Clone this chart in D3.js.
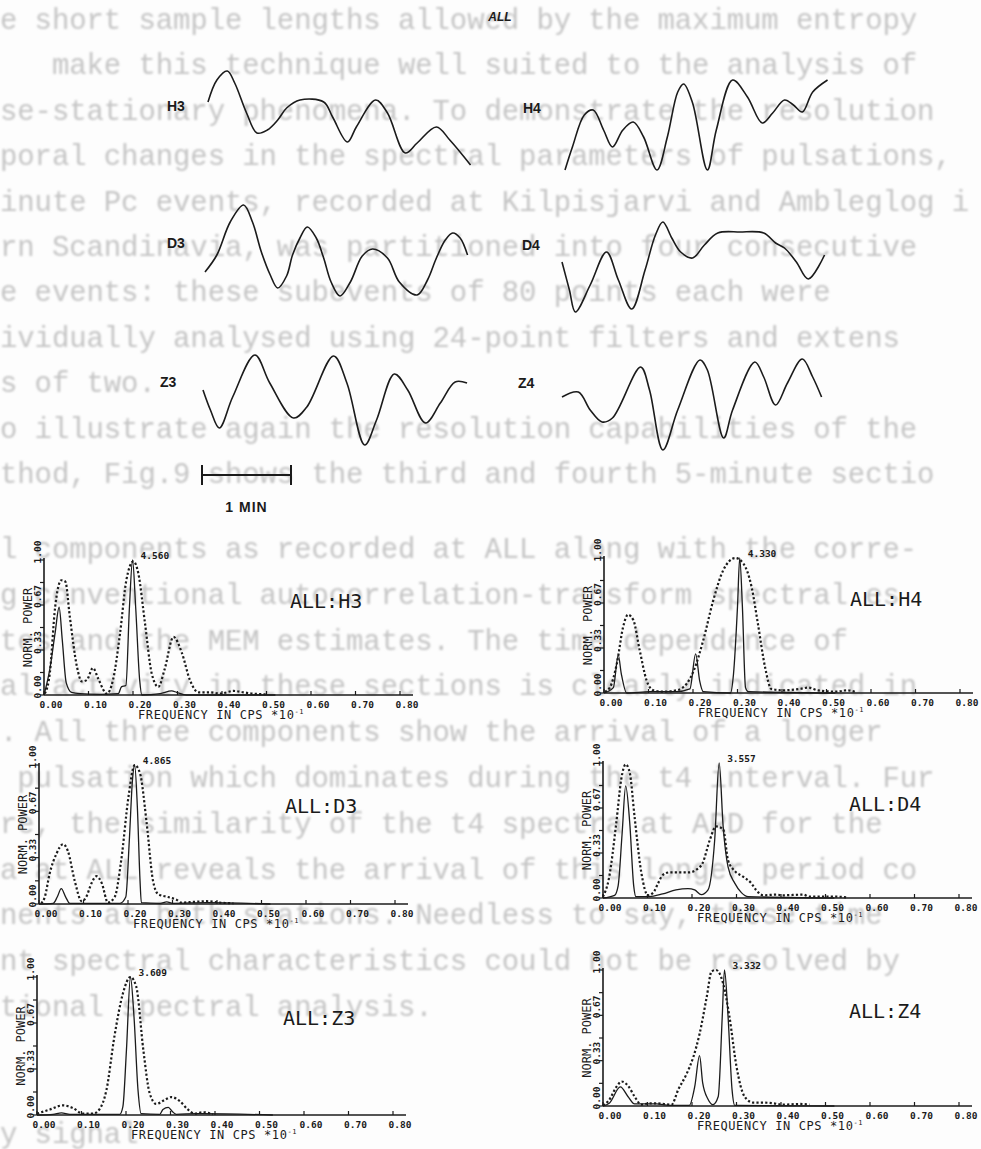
<!DOCTYPE html>
<html>
<head>
<meta charset="utf-8">
<script src="https://cdn.jsdelivr.net/npm/d3@7"></script>
<style>
  html, body { margin: 0; padding: 0; background: #fdfdfd; }
  svg { display: block; }
</style>
</head>
<body>
<svg id="fig" width="981" height="1149"></svg>
<script>
'use strict';

// ---- data ----

// typed page showing through behind the figure
var pageLines = [
  'e short sample lengths allowed by the maximum entropy',
  '   make this technique well suited to the analysis of',
  'se-stationary phenomena. To demonstrate the resolution',
  'poral changes in the spectral parameters of pulsations,',
  'inute Pc events, recorded at Kilpisjarvi and Ambleglog i',
  'rn Scandinavia, was partitioned into four consecutive',
  'e events: these subevents of 80 points each were',
  'ividually analysed using 24-point filters and extens',
  's of two.',
  'o illustrate again the resolution capabilities of the',
  'thod, Fig.9 shows the third and fourth 5-minute sectio',
  'l components as recorded at ALL along with the corre-',
  'g conventional autocorrelation-transform spectral es',
  'tes and the MEM estimates. The time dependence of',
  'al activity in these sections is clearly indicated in',
  '. All three components show the arrival of a longer',
  ' pulsation which dominates during the t4 interval. Fur',
  're, the similarity of the t4 spectra at ARD for the',
  'a at ALL reveals the arrival of this longer period co',
  'nents at both stations. Needless to say, these time',
  'nt spectral characteristics could not be resolved by',
  'tional spectral analysis.'
];

// magnetogram traces: [seconds, relative amplitude]
var waveH3 = [[0,4],[6,26],[13,35],[18,23],[26,-7],[33,-27],[40,-24],[47,-14],[53,-2],[62,6],[78,4],[84,-11],[94,-36],[100,-21],[113,6],[121,-7],[133,-47],[141,-37],[154,-21],[163,-34],[177,-59]];
var waveH4 = [[0,-62],[5,-39],[13,-7],[19,-2],[26,-22],[32,-39],[39,-22],[46,-14],[53,-29],[62,-62],[69,-29],[76,16],[80,24],[86,5],[96,-62],[102,-22],[113,28],[123,11],[133,-15],[140,-5],[148,8],[154,3],[160,-4],[167,16],[177,28]];
var waveD3 = [[0,-29],[8,-12],[17,21],[26,38],[32,21],[38,-9],[44,-32],[49,-45],[55,-33],[59,-12],[64,5],[69,16],[75,5],[80,-15],[85,-39],[91,-53],[98,-39],[106,-13],[113,-6],[123,-15],[131,-39],[143,-52],[150,-37],[156,-15],[162,3],[167,10],[172,5],[177,-12]];
var waveD4 = [[0,-17],[5,-45],[9,-67],[19,-40],[30,-7],[38,-35],[47,-64],[56,-25],[63,10],[68,23],[74,7],[80,-7],[88,-13],[96,0],[105,12],[120,13],[136,12],[144,2],[150,-3],[158,-17],[166,-34],[177,-10]];
var waveZ3 = [[0,-8],[5,-28],[11,-46],[20,-15],[35,27],[45,-1],[61,-36],[70,-25],[88,26],[97,-1],[109,-63],[117,-38],[129,8],[138,-8],[150,-41],[160,-21],[170,0],[178,-1]];
var waveZ4 = [[0,-14],[11,-9],[19,-27],[27,-39],[34,-35],[53,16],[59,-7],[68,-67],[78,-27],[93,23],[98,13],[109,-55],[115,-27],[130,21],[136,6],[144,-22],[152,0],[162,24],[169,6],[175,-14]];
var scaleBarSeconds = 60;

// spectra: [frequency (cps*10^-1), normalised power]; mem = solid, conv = dotted
var memH3 = [[0,0],[0.013,0.19],[0.025,0.46],[0.034,0.65],[0.041,0.41],[0.050,0.09],[0.062,0.02],[0.081,0.01],[0.125,0.005],[0.167,0.01],[0.174,0.06],[0.184,0.07],[0.192,0.65],[0.199,1.0],[0.206,0.65],[0.215,0.11],[0.220,0],[0.261,0.01],[0.287,0.03],[0.298,0.02],[0.320,0],[0.52,0]];
var convH3 = [[0.002,0.01],[0.013,0.16],[0.025,0.65],[0.039,0.85],[0.048,0.84],[0.058,0.58],[0.074,0.21],[0.085,0.10],[0.096,0.11],[0.110,0.20],[0.122,0.12],[0.141,0.01],[0.155,0.11],[0.171,0.46],[0.185,0.85],[0.201,0.99],[0.212,0.90],[0.227,0.53],[0.242,0.16],[0.257,0.06],[0.271,0.19],[0.291,0.43],[0.310,0.31],[0.328,0.11],[0.347,0.02],[0.373,0.02],[0.396,0.01],[0.426,0.03],[0.448,0.02],[0.470,0.01],[0.500,0.005]];
var memH4 = [[0,0],[0.021,0.04],[0.032,0.28],[0.039,0.14],[0.051,0],[0.103,0.01],[0.163,0.01],[0.193,0.03],[0.206,0.29],[0.215,0.09],[0.223,0.01],[0.284,0],[0.291,0.14],[0.300,0.64],[0.305,1.0],[0.311,0.64],[0.318,0.04],[0.324,0.01],[0.52,0]];
var convH4 = [[0.002,0.01],[0.013,0.04],[0.029,0.22],[0.043,0.49],[0.054,0.58],[0.066,0.54],[0.080,0.32],[0.096,0.09],[0.111,0.02],[0.133,0.01],[0.163,0.02],[0.186,0.07],[0.201,0.16],[0.223,0.39],[0.245,0.68],[0.268,0.91],[0.295,1.0],[0.313,0.96],[0.332,0.78],[0.346,0.51],[0.362,0.19],[0.376,0.03],[0.403,0.02],[0.440,0.03],[0.459,0.04],[0.481,0.02],[0.523,0.01],[0.545,0.02],[0.568,0.005]];
var memD3 = [[0,0],[0.032,0.005],[0.041,0.05],[0.050,0.11],[0.060,0.05],[0.069,0.005],[0.182,0.005],[0.195,0.05],[0.203,0.46],[0.210,0.89],[0.215,1.0],[0.221,0.70],[0.227,0.17],[0.230,0.01],[0.272,0.005],[0.287,0.015],[0.301,0.005],[0.377,0.01],[0.52,0]];
var convD3 = [[0.005,0.005],[0.013,0.05],[0.024,0.22],[0.039,0.36],[0.054,0.43],[0.065,0.38],[0.080,0.17],[0.096,0.02],[0.106,0.05],[0.118,0.15],[0.129,0.20],[0.141,0.15],[0.155,0.01],[0.170,0.05],[0.185,0.32],[0.201,0.77],[0.215,1.0],[0.227,0.94],[0.242,0.58],[0.256,0.17],[0.268,0.07],[0.290,0.05],[0.309,0.03],[0.320,0.01],[0.347,0.015],[0.377,0.02],[0.406,0.01],[0.437,0.005]];
var memD4 = [[0,0],[0.026,0.02],[0.034,0.09],[0.043,0.48],[0.051,0.83],[0.060,0.56],[0.069,0.09],[0.074,0.01],[0.104,0.01],[0.134,0.03],[0.164,0.06],[0.191,0.07],[0.206,0.06],[0.221,0.025],[0.236,0.06],[0.251,0.43],[0.261,1.0],[0.270,0.53],[0.281,0.23],[0.296,0.11],[0.311,0.04],[0.326,0.01],[0.52,0]];
var convD4 = [[0,0.01],[0.013,0.14],[0.030,0.56],[0.041,0.88],[0.051,0.99],[0.060,0.93],[0.071,0.60],[0.086,0.19],[0.101,0.02],[0.113,0.04],[0.124,0.11],[0.134,0.17],[0.150,0.19],[0.173,0.19],[0.194,0.19],[0.210,0.21],[0.224,0.26],[0.240,0.43],[0.254,0.53],[0.270,0.51],[0.281,0.28],[0.296,0.20],[0.314,0.16],[0.333,0.11],[0.344,0.06],[0.360,0.02],[0.390,0.025],[0.404,0.02],[0.450,0.025],[0.464,0.01],[0.524,0.01],[0.547,0.005]];
var memZ3 = [[0,0],[0.036,0.005],[0.055,0.015],[0.074,0.005],[0.186,0.005],[0.193,0.06],[0.201,0.47],[0.210,1.0],[0.218,0.71],[0.227,0.18],[0.234,0.01],[0.276,0.005],[0.283,0.04],[0.295,0.055],[0.304,0.025],[0.313,0.005],[0.358,0.01],[0.373,0.01],[0.53,0]];
var convZ3 = [[0,0.01],[0.029,0.04],[0.058,0.07],[0.081,0.05],[0.103,0.01],[0.126,0.01],[0.140,0.04],[0.156,0.18],[0.174,0.57],[0.193,0.88],[0.210,1.0],[0.223,0.93],[0.239,0.47],[0.253,0.16],[0.268,0.08],[0.287,0.11],[0.302,0.13],[0.321,0.10],[0.339,0.04],[0.354,0.01],[0.373,0.02],[0.395,0.005]];
var memZ4 = [[0,0],[0.014,0.02],[0.039,0.14],[0.056,0.07],[0.071,0.015],[0.097,0.015],[0.120,0.015],[0.150,0.005],[0.194,0.005],[0.206,0.14],[0.217,0.37],[0.224,0.17],[0.236,0.05],[0.247,0.01],[0.259,0.07],[0.268,0.66],[0.273,1.0],[0.281,0.66],[0.290,0.12],[0.296,0.005],[0.52,0]];
var convZ4 = [[0,0.005],[0.013,0.04],[0.030,0.14],[0.042,0.18],[0.056,0.15],[0.071,0.07],[0.086,0.01],[0.104,0.02],[0.120,0.02],[0.134,0.015],[0.154,0.01],[0.169,0.12],[0.187,0.23],[0.203,0.36],[0.217,0.53],[0.233,0.80],[0.244,0.99],[0.254,1.0],[0.270,0.90],[0.284,0.66],[0.300,0.29],[0.318,0.07],[0.337,0.025],[0.360,0.025],[0.383,0.02],[0.404,0.01],[0.443,0.015],[0.464,0.01]];

var stations = ['H3', 'H4', 'D3', 'D4', 'Z3', 'Z4'];
var peakValues = ['4.560', '4.330', '4.865', '3.557', '3.609', '3.332'];
var freqTicks = [0, 0.1, 0.2, 0.3, 0.4, 0.5, 0.6, 0.7, 0.8];
var powerLabels = [0, 0.33, 0.67, 1.0];
var powerTicks = [0, 1 / 6, 2 / 6, 3 / 6, 4 / 6, 5 / 6, 1];

// ---- layout ----
var ink = '#1b1b1b';
var svg = d3.select('#fig');

svg.append('defs').append('filter').attr('id', 'soft')
  .append('feGaussianBlur').attr('stdDeviation', 0.8);

// faint page text behind
var page = svg.append('g').attr('class', 'page-text').attr('filter', 'url(#soft)')
  .style('font-family', '"Liberation Mono", "DejaVu Sans Mono", monospace')
  .style('font-size', '29px')
  .style('letter-spacing', '-0.1px')
  .style('fill', '#c4c4c4')
  .style('white-space', 'pre');

function lineY(i) {
  return i < 11 ? 19 + 45.4 * i : 548 + 45.8 * (i - 11);
}

page.selectAll('text').data(pageLines).enter().append('text')
  .attr('xml:space', 'preserve')
  .attr('x', 0)
  .attr('y', function (d, i) { return lineY(i) + 10; })
  .text(function (d) { return d; });

page.append('text').attr('x', 0).attr('y', 1143).text('y signal');

// title
svg.append('text')
  .attr('x', 500).attr('y', 21)
  .style('font-family', '"Liberation Sans", Arial, sans-serif')
  .style('font-size', '12px').style('font-weight', 'bold').style('font-style', 'italic')
  .style('fill', ink).attr('text-anchor', 'middle')
  .text('ALL');

// ---- waveforms ----
var tScale = d3.scaleLinear().domain([0, 60]).range([0, 89]);
var aScale = d3.scaleLinear().domain([-60, 60]).range([60, -60]);
var waveLine = d3.line()
  .x(function (d) { return tScale(d[0]); })
  .y(function (d) { return aScale(d[1]); })
  .curve(d3.curveCatmullRom.alpha(0.5));

var waves = [waveH3, waveH4, waveD3, waveD4, waveZ3, waveZ4];
var waveSlots = [
  { x: 208, y: 106, lx: 167 },
  { x: 565, y: 108, lx: 523 },
  { x: 205, y: 243, lx: 167 },
  { x: 562, y: 245, lx: 522 },
  { x: 203, y: 382, lx: 160 },
  { x: 562, y: 383, lx: 518 }
];

waves.forEach(function (w, i) {
  var s = waveSlots[i];
  var g = svg.append('g').attr('class', 'trace ' + stations[i])
    .attr('transform', 'translate(' + s.x + ',' + s.y + ')');
  g.append('path').datum(w).attr('d', waveLine)
    .style('fill', 'none').style('stroke', ink).style('stroke-width', 1.6)
    .style('stroke-linejoin', 'round');
  svg.append('text')
    .attr('x', s.lx).attr('y', s.y + 5)
    .style('font-family', '"Liberation Sans", Arial, sans-serif')
    .style('font-size', '14px').style('font-weight', 'bold').style('fill', ink)
    .text(stations[i]);
});

// 1 minute scale bar
var bar = svg.append('g').attr('transform', 'translate(202,475)');
bar.append('line').attr('x1', tScale(0)).attr('x2', tScale(scaleBarSeconds))
  .attr('y1', 0).attr('y2', 0).style('stroke', ink).style('stroke-width', 2);
[0, scaleBarSeconds].forEach(function (t) {
  bar.append('line').attr('x1', tScale(t)).attr('x2', tScale(t))
    .attr('y1', -10).attr('y2', 10).style('stroke', ink).style('stroke-width', 2);
});
bar.append('text').attr('x', tScale(scaleBarSeconds / 2)).attr('y', 37)
  .attr('text-anchor', 'middle')
  .style('font-family', '"Liberation Sans", Arial, sans-serif')
  .style('font-size', '14px').style('font-weight', 'bold').style('letter-spacing', '1px')
  .style('fill', ink).text('1 MIN');

// ---- spectra ----
var spectra = [
  { mem: memH3, conv: convH3 },
  { mem: memH4, conv: convH4 },
  { mem: memD3, conv: convD3 },
  { mem: memD4, conv: convD4 },
  { mem: memZ3, conv: convZ3 },
  { mem: memZ4, conv: convZ4 }
];
var panelSlots = [
  { x0: 44, y0: 695, h: 135 },
  { x0: 604, y0: 693, h: 135 },
  { x0: 39, y0: 904, h: 139 },
  { x0: 603, y0: 898, h: 135 },
  { x0: 37, y0: 1115, h: 138 },
  { x0: 603, y0: 1106, h: 136 }
];
var axisW = 356;

var mono = '"DejaVu Sans Mono", "Liberation Mono", monospace';
var fmt = d3.format('.2f');

spectra.forEach(function (sp, i) {
  var s = panelSlots[i];
  var x = d3.scaleLinear().domain([0, 0.8]).range([0, axisW]);
  var y = d3.scaleLinear().domain([0, 1]).range([0, -s.h]);
  var g = svg.append('g').attr('class', 'spectrum ' + stations[i])
    .attr('transform', 'translate(' + s.x0 + ',' + s.y0 + ')');

  // x axis
  g.append('line').attr('x1', 0).attr('x2', axisW + 13).attr('y1', 0).attr('y2', 0)
    .style('stroke', ink).style('stroke-width', 1.6);
  g.selectAll('line.xtick').data(freqTicks).enter().append('line')
    .attr('class', 'xtick')
    .attr('x1', function (d) { return x(d); }).attr('x2', function (d) { return x(d); })
    .attr('y1', 0).attr('y2', -4)
    .style('stroke', ink).style('stroke-width', 1.2);
  g.selectAll('text.xlab').data(freqTicks).enter().append('text')
    .attr('class', 'xlab')
    .attr('x', function (d) { return x(d) + 7; }).attr('y', 13)
    .attr('text-anchor', 'middle')
    .style('font-family', mono).style('font-size', '9.5px').style('font-weight', 'bold')
    .style('fill', ink)
    .text(function (d) { return fmt(d); });

  var xt = g.append('text').attr('x', 94).attr('y', 24)
    .style('font-family', mono).style('font-size', '12px').style('fill', ink)
    .style('letter-spacing', '0.6px');
  xt.append('tspan').text('FREQUENCY IN CPS  *10');
  xt.append('tspan').attr('dy', -5).style('font-size', '7px').text('-1');

  // y axis
  g.append('line').attr('x1', 0).attr('x2', 0).attr('y1', 0).attr('y2', y(1) - 2)
    .style('stroke', ink).style('stroke-width', 1.6);
  g.selectAll('line.ytick').data(powerTicks).enter().append('line')
    .attr('class', 'ytick')
    .attr('x1', 0).attr('x2', -4)
    .attr('y1', function (d) { return y(d); }).attr('y2', function (d) { return y(d); })
    .style('stroke', ink).style('stroke-width', 1.2);
  g.selectAll('text.ylab').data(powerLabels).enter().append('text')
    .attr('class', 'ylab')
    .attr('transform', function (d) { return 'translate(-3,' + (y(d) - 8) + ') rotate(-90)'; })
    .attr('text-anchor', 'middle')
    .style('font-family', mono).style('font-size', '9.5px').style('font-weight', 'bold')
    .style('fill', ink)
    .text(function (d) { return fmt(d); });
  g.append('text')
    .attr('transform', 'translate(-12,' + y(0.5) + ') rotate(-90)')
    .attr('text-anchor', 'middle')
    .style('font-family', mono).style('font-size', '12px').style('fill', ink)
    .text('NORM. POWER');

  // curves
  var line = d3.line()
    .x(function (d) { return x(d[0]); })
    .y(function (d) { return y(d[1]); })
    .curve(d3.curveMonotoneX);
  g.append('path').datum(sp.conv).attr('d', line)
    .style('fill', 'none').style('stroke', ink).style('stroke-width', 2.2)
    .style('stroke-dasharray', '2.2,2.2');
  g.append('path').datum(sp.mem).attr('d', line)
    .style('fill', 'none').style('stroke', ink).style('stroke-width', 1.3);

  // peak value beside the MEM maximum
  var top = sp.mem.reduce(function (a, b) { return b[1] > a[1] ? b : a; });
  g.append('text').attr('x', x(top[0]) + 8).attr('y', y(top[1]) - 1)
    .style('font-family', mono).style('font-size', '9.5px').style('font-weight', 'bold')
    .style('fill', ink).text(peakValues[i]);

  // panel name
  g.append('text').attr('x', 246).attr('y', y(1) + 48)
    .style('font-family', mono).style('font-size', '20px').style('fill', ink)
    .text('ALL:' + stations[i]);
});
</script>
</body>
</html>
